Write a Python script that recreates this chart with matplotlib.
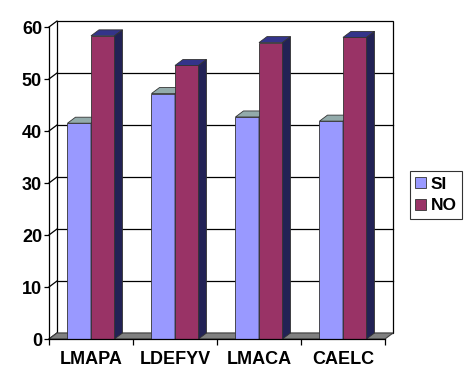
import numpy as np
import matplotlib
matplotlib.use("Agg")
import matplotlib.pyplot as plt
from matplotlib.patches import Polygon, Rectangle, Patch

categories = ["LMAPA", "LDEFYV", "LMACA", "CAELC"]
series_names = ["SI", "NO"]
si_values = [41.5, 47.2, 42.7, 41.9]
no_values = [58.3, 52.6, 57.0, 58.0]
y_ticks = [0, 10, 20, 30, 40, 50, 60]

front_colors = ["#9999FF", "#993366"]
top_colors = ["#93ABAB", "#34348A"]
side_colors = ["#6B6BB3", "#222255"]

plt.rcParams["font.family"] = ["Liberation Sans", "DejaVu Sans"]
plt.rcParams["font.weight"] = "bold"

fig = plt.figure(figsize=(4.7, 3.88), dpi=100)
W, H = 470, 388
ax = fig.add_axes([49 / W, (H - 339) / H, 336 / W, 312 / H])
ax.set_xlim(0, 4)
ax.set_ylim(0, 60)

# 3D depth offset in data units (8 px right, 6 px up)
dx = 8 / 84
dy = 6 / 5.2
edge = "#333333"

# back wall
ax.add_patch(Rectangle((dx, dy), 4, 60, facecolor="white", edgecolor="black",
                       lw=0.9, clip_on=False, zorder=0))
for v in y_ticks[1:-1]:
    ax.plot([dx, 4 + dx], [v + dy, v + dy], color="black", lw=0.9,
            clip_on=False, zorder=1)
# left wall diagonals
for v in y_ticks:
    ax.plot([0, dx], [v, v + dy], color="black", lw=0.9, clip_on=False, zorder=1)

# floor
ax.add_patch(Polygon([(0, 0), (4, 0), (4 + dx, dy), (dx, dy)], closed=True,
                     facecolor="#808080", edgecolor="#404040", lw=0.8,
                     clip_on=False, zorder=2))

bw = 0.28
for i in range(len(categories)):
    for j, vals in enumerate([si_values, no_values]):
        v = vals[i]
        x0 = i + 0.5 - bw + j * bw
        x1 = x0 + bw
        ax.bar(x0, v, width=bw, align="edge", color=front_colors[j],
               edgecolor=edge, lw=0.6, zorder=3 + j)
        ax.add_patch(Polygon([(x0, v), (x1, v), (x1 + dx, v + dy), (x0 + dx, v + dy)],
                             closed=True, facecolor=top_colors[j], edgecolor=edge,
                             lw=0.6, clip_on=False, zorder=3 + j))
        ax.add_patch(Polygon([(x1, 0), (x1, v), (x1 + dx, v + dy), (x1 + dx, dy)],
                             closed=True, facecolor=side_colors[j], edgecolor=edge,
                             lw=0.6, clip_on=False, zorder=3 + j))

for s in ["top", "right"]:
    ax.spines[s].set_visible(False)
ax.spines["left"].set_linewidth(0.9)
ax.spines["bottom"].set_linewidth(0.9)
ax.spines["left"].set_zorder(6)
ax.spines["bottom"].set_zorder(6)
ax.patch.set_visible(False)

ax.set_yticks(y_ticks)
ax.set_yticklabels([str(t) for t in y_ticks], fontsize=13, fontweight="bold")
ax.tick_params(axis="y", direction="out", length=3.5, width=0.9, pad=1.5)

ax.set_xticks(np.arange(0, 5))
ax.set_xticklabels([])
ax.set_xticks(np.arange(len(categories)) + 0.5, minor=True)
ax.set_xticklabels(categories, minor=True, fontsize=13, fontweight="bold")
ax.tick_params(axis="x", which="major", direction="out", length=4.5, width=0.9)
ax.tick_params(axis="x", which="minor", length=0, pad=9)

handles = [Patch(facecolor=front_colors[k], edgecolor=edge, lw=0.6)
           for k in range(2)]
leg = fig.legend(handles, series_names, loc="center left",
                 bbox_to_anchor=(410 / W, (H - 195) / H),
                 prop={"size": 12.5, "weight": "bold"}, frameon=True, fancybox=False,
                 handlelength=0.62, handleheight=0.62, handletextpad=0.28,
                 borderpad=0.3, labelspacing=0.4, borderaxespad=0)
leg.get_frame().set_edgecolor("black")
leg.get_frame().set_linewidth(0.8)

fig.savefig("out.png", dpi=100)
